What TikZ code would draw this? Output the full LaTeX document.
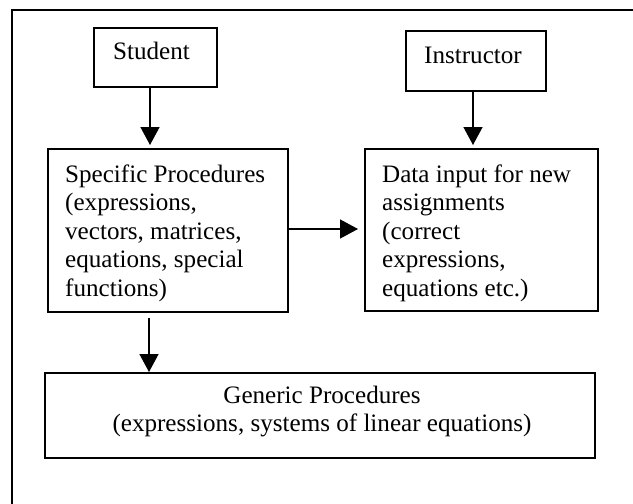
\documentclass[tikz,border=0pt]{standalone}
\usepackage{fontspec}
\setmainfont{Liberation Serif}
\usetikzlibrary{arrows.meta}
\newcommand\tstrut{\rule{0pt}{20pt}}
\begin{document}
\begin{tikzpicture}[x=1pt,y=-1pt,
  box/.style={draw=black,line width=1.8pt,inner sep=0pt,anchor=north west},
  txt/.style={font=\fontsize{25.1}{28.5}\selectfont,inner sep=0pt,align=left,anchor=north west},
  arr/.style={-{Triangle[width=19pt,length=18pt]},line width=1.4pt}]
\useasboundingbox (0,0) rectangle (633,504);
\draw[line width=2.4pt] (12,504) -- (12,10) -- (633,10);
% boxes
\node[box,minimum width=123pt,minimum height=59pt] (stu) at (93,27) {};
\node[txt] (stut) at (113,39) {\tstrut Student};
\node[box,minimum width=140pt,minimum height=60pt] (ins) at (405,30) {};
\node[txt] (inst) at (424,43.5) {\tstrut Instructor};
\node[box,minimum width=240pt,minimum height=163pt] (spec) at (47,148) {};
\node[txt] (spect) at (65,162) {\tstrut Specific Procedures\\(expressions,\\vectors, matrices,\\equations, special\\functions)};
\node[box,minimum width=233pt,minimum height=162pt] (data) at (364,148) {};
\node[txt] (datat) at (382,162) {\tstrut Data input for new\\assignments\\(correct\\expressions,\\equations etc.)};
\node[box,minimum width=550pt,minimum height=85pt] (gen) at (44,372) {};
\node[txt,align=center,anchor=north] (gent) at (322,383) {\tstrut Generic Procedures\\(expressions, systems of linear equations)};
% connector positions
\coordinate (xs) at (150,0);
\coordinate (xi) at (473,0);
\coordinate (xg) at (149,0);
\coordinate (yh) at (0,229);
% connectors
\draw[arr,shorten >=3pt] (stu.south -| xs) -- (spec.north -| xs);
\draw[arr,shorten >=3pt] (ins.south -| xi) -- (data.north -| xi);
\draw[arr,shorten >=6pt] (spec.east |- yh) -- (data.west |- yh);
\draw[arr,shorten <=5pt] (spec.south -| xg) -- (gen.north -| xg);
\end{tikzpicture}
\end{document}
